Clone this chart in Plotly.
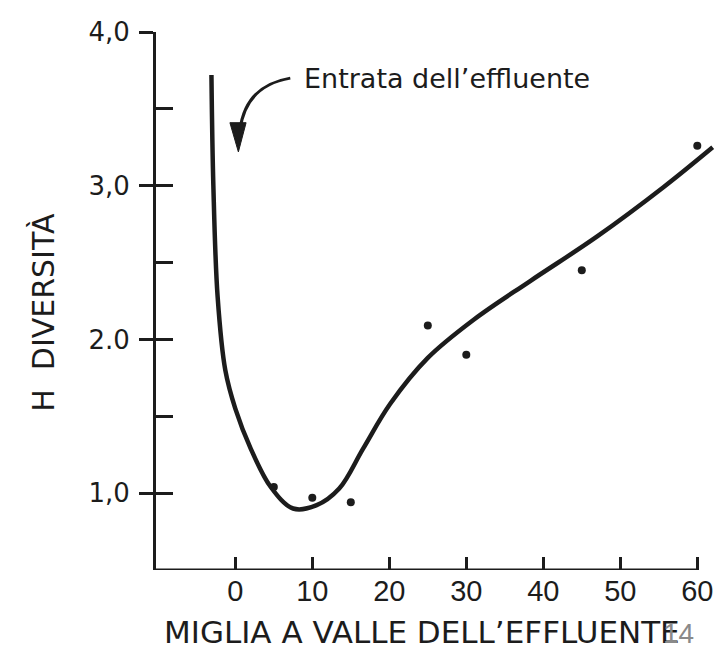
import plotly.graph_objects as go

# ---- data ----
point_x = [5, 10, 15, 25, 30, 45, 60]
point_y = [1.04, 0.97, 0.94, 2.09, 1.90, 2.45, 3.26]

curve_x = [-3.1, -2.85, -2.3, -1.3, 0.0, 2.0, 4.6, 7.5, 10.5, 13.5, 16.6, 20.1,
           25.0, 31.0, 38.3, 47.0, 55.6, 62.0]
curve_y = [3.72, 3.00, 2.28, 1.80, 1.55, 1.29, 1.04, 0.90, 0.92, 1.03, 1.29, 1.58,
           1.88, 2.13, 2.38, 2.67, 2.99, 3.25]

x_ticks = [0, 10, 20, 30, 40, 50, 60]
y_major = [1.0, 2.0, 3.0, 4.0]
y_major_text = ["1,0", "2.0", "3,0", "4,0"]
y_minor = [1.0, 1.5, 2.0, 2.5, 3.0, 3.5, 4.0]

x_range = [-10.3, 62.3]
y_range = [0.5, 4.0]

annot_text = "Entrata dell\u2019effluente"
x_title = "MIGLIA A VALLE DELL\u2019EFFLUENTE"
y_title = "H  DIVERSIT\u00c0"
page_no = "14"

INK = "#1c1c1c"
FONT = "DejaVu Sans, Liberation Sans, Arial, sans-serif"
FONT_NUM = "Liberation Sans, Arial, Helvetica, sans-serif"

fig = go.Figure()
fig.add_trace(go.Scatter(x=curve_x, y=curve_y, mode="lines",
                         line=dict(color=INK, width=4.5, shape="spline", smoothing=1.0),
                         hoverinfo="skip", showlegend=False))
fig.add_trace(go.Scatter(x=point_x, y=point_y, mode="markers",
                         marker=dict(color=INK, size=8), showlegend=False))
# invisible companion trace so the inner tick axis (y2) is drawn
fig.add_trace(go.Scatter(x=point_x, y=point_y, mode="markers", yaxis="y2",
                         marker=dict(opacity=0), hoverinfo="skip", showlegend=False))

# bottom axis line spanning from the left edge to the last tick
fig.add_shape(type="line", xref="x", yref="y", x0=x_range[0], x1=x_ticks[-1],
              y0=y_range[0], y1=y_range[0], line=dict(color=INK, width=3))

# curved arrow pointing at the effluent entry
fig.add_shape(type="path", xref="x", yref="y",
              path="M 7.14,3.70 Q 1.30,3.65 0.60,3.36",
              line=dict(color=INK, width=3))
fig.add_shape(type="path", xref="x", yref="y",
              path="M -0.70,3.41 L 1.40,3.41 L 0.40,3.22 Z",
              fillcolor=INK, line=dict(color=INK, width=1))

fig.add_annotation(x=8.7, y=3.70, xref="x", yref="y", text=annot_text, showarrow=False,
                   xanchor="left", yanchor="middle", font=dict(family=FONT, size=27, color=INK))
fig.add_annotation(x=0.476, y=0, xref="paper", yref="paper", yshift=-62, text=x_title,
                   showarrow=False, xanchor="center", yanchor="middle",
                   font=dict(family=FONT, size=31, color=INK))
fig.add_annotation(x=0, y=0.478, xref="paper", yref="paper", xshift=-112, text=y_title,
                   showarrow=False, textangle=-90, xanchor="center", yanchor="middle",
                   font=dict(family=FONT, size=30, color=INK))
fig.add_annotation(x=1, y=0, xref="paper", yref="paper", xshift=-37, yshift=-63, text=page_no,
                   showarrow=False, xanchor="center", yanchor="middle",
                   font=dict(family=FONT_NUM, size=28, color="#8a8a8a"))

fig.update_layout(
    width=716, height=640,
    margin=dict(l=148, r=9, t=18, b=78),
    paper_bgcolor="white", plot_bgcolor="white",
    showlegend=False,
    xaxis=dict(range=x_range, tickvals=x_ticks, ticks="inside", ticklen=13, tickwidth=2.5,
               tickcolor=INK, showline=False, showgrid=False, zeroline=False,
               tickfont=dict(family=FONT_NUM, size=29, color=INK), ticklabelstandoff=1),
    yaxis=dict(range=y_range, tickvals=y_major, ticktext=y_major_text, ticks="outside",
               ticklen=14, tickwidth=2.5, tickcolor=INK, showline=True, linecolor=INK,
               linewidth=3, showgrid=False, zeroline=False,
               tickfont=dict(family=FONT, size=26, color=INK), ticklabelstandoff=4),
    yaxis2=dict(range=y_range, overlaying="y", anchor="x", side="left", tickvals=y_minor,
                ticks="inside", ticklen=17, tickwidth=2.5, tickcolor=INK,
                showticklabels=False, showline=False, showgrid=False, zeroline=False),
)

fig.write_html("out.html")
